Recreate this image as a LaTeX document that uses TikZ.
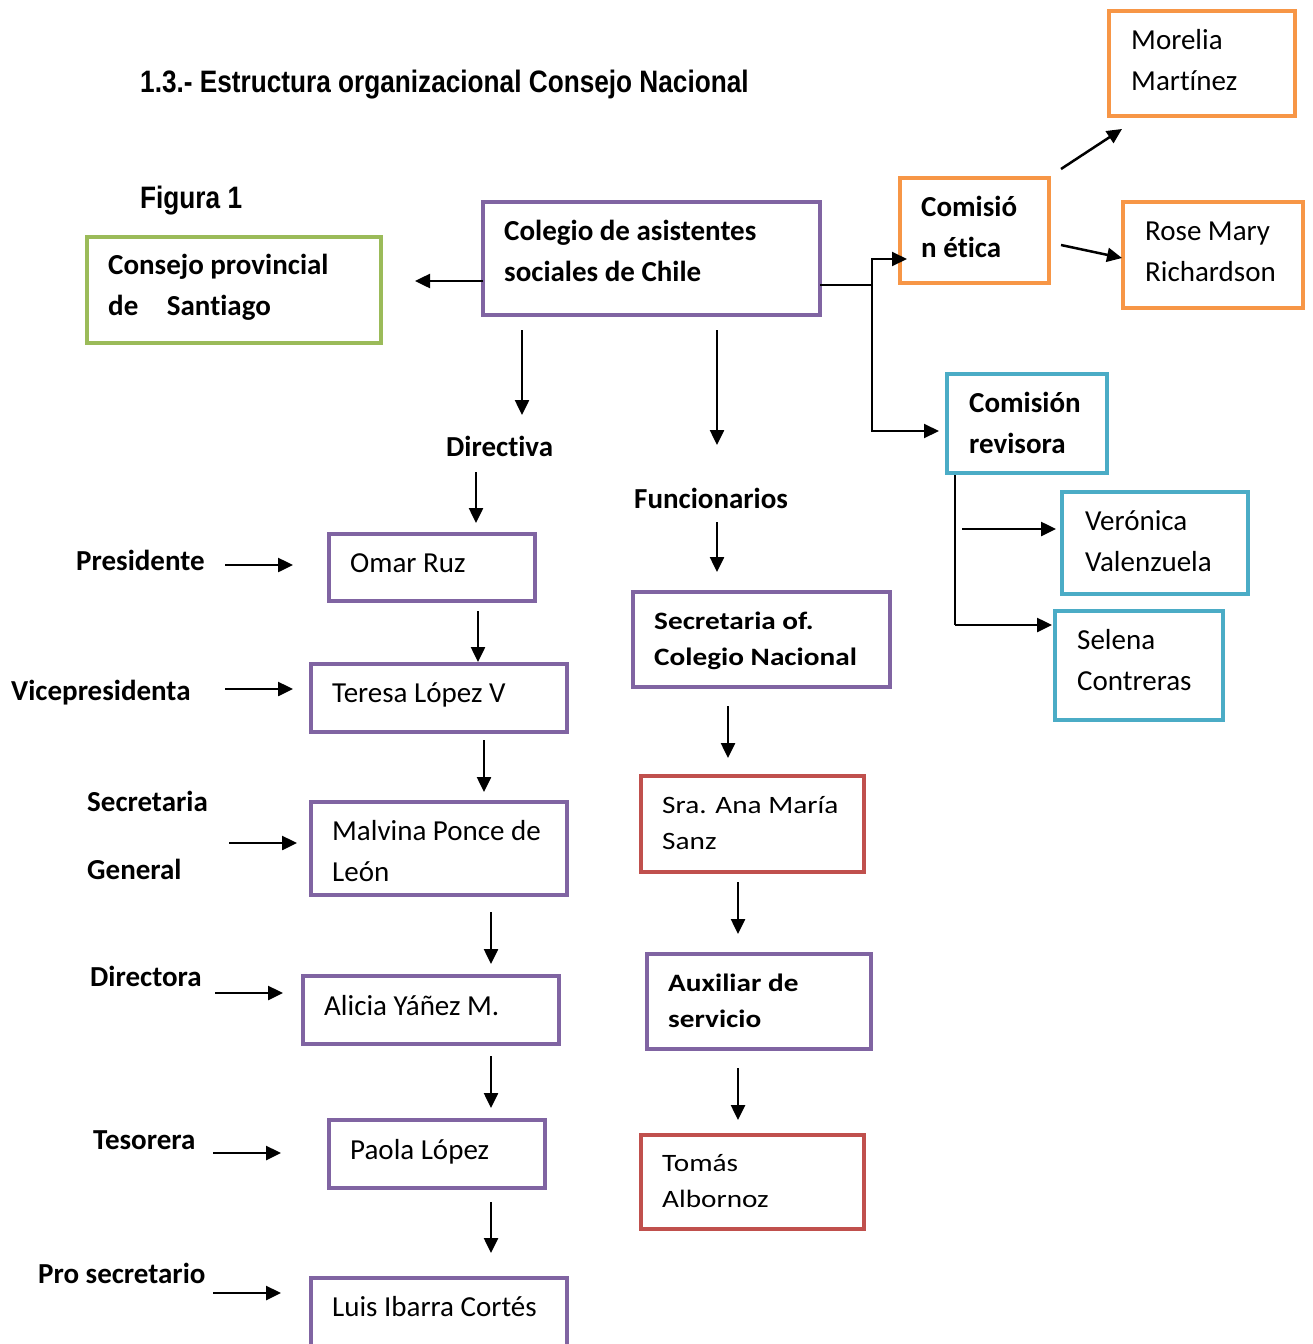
\documentclass[tikz,border=0pt]{standalone}
\usepackage{fontspec}
\setmainfont{Carlito}[Ligatures={NoCommon}]
\newfontfamily\widefont{Carlito}[FakeStretch=1.17, Ligatures={NoCommon}]
\newfontfamily\titlefont{Liberation Sans}[FakeStretch=0.845]
\usetikzlibrary{arrows.meta}
\definecolor{cpurple}{HTML}{8064A2}
\definecolor{cgreen}{HTML}{9BBB59}
\definecolor{corange}{HTML}{F79646}
\definecolor{cblue}{HTML}{4BACC6}
\definecolor{cred}{HTML}{C0504D}
\tikzset{
  box/.style={draw=#1, line width=4pt, inner sep=0pt},
  txt/.style={anchor=west, inner sep=0pt, align=left, font=\fontsize{29}{41}\selectfont},
  btxt/.style={anchor=west, inner sep=0pt, align=left, font=\fontsize{29}{41}\selectfont\bfseries},
  wtxt/.style={anchor=west, inner sep=0pt, align=left, font=\fontsize{25}{36}\selectfont\widefont},
  wbtxt/.style={anchor=west, inner sep=0pt, align=left, font=\fontsize{25}{36}\selectfont\widefont\bfseries},
  ttl/.style={anchor=base west, inner sep=0pt, font=\fontsize{31}{36}\selectfont\titlefont\bfseries},
  arr/.style={line width=2.5pt, -{Triangle[length=15pt,width=14pt]}},
  conn/.style={line width=2pt},
}
\begin{document}
\begin{tikzpicture}[x=1pt,y=-1pt]
\useasboundingbox (0,0) rectangle (1313,1344);
\clip (0,0) rectangle (1313,1344);

% title
\node[ttl] (title) at (140,92) {1.3.- Estructura organizacional Consejo Nacional};
\node[ttl] (fig) at (140,208) {Figura 1};

% boxes
\node[box=cgreen, minimum width=294pt, minimum height=106pt] (cp) at (234,290) {};
\node[box=cpurple, minimum width=337pt, minimum height=113pt] (col) at (651.5,258.5) {};
\node[box=corange, minimum width=149pt, minimum height=105pt] (etica) at (974.5,230.5) {};
\node[box=corange, minimum width=186pt, minimum height=105pt] (mor) at (1202,63.5) {};
\node[box=corange, minimum width=180pt, minimum height=106pt] (rose) at (1213,255) {};
\node[box=cblue, minimum width=160pt, minimum height=99pt] (rev) at (1027,423.5) {};
\node[box=cblue, minimum width=186pt, minimum height=102pt] (ver) at (1155,543) {};
\node[box=cblue, minimum width=168pt, minimum height=109pt] (sel) at (1139,665.5) {};
\node[box=cpurple, minimum width=206pt, minimum height=67pt] (omar) at (432,567.5) {};
\node[box=cpurple, minimum width=256pt, minimum height=68pt] (teresa) at (439,698) {};
\node[box=cpurple, minimum width=256pt, minimum height=93pt] (malvina) at (439,848.5) {};
\node[box=cpurple, minimum width=256pt, minimum height=68pt] (alicia) at (431,1010) {};
\node[box=cpurple, minimum width=216pt, minimum height=68pt] (paola) at (437,1154) {};
\node[box=cpurple, minimum width=256pt, minimum height=70pt] (luis) at (439,1313) {};
\node[box=cpurple, minimum width=257pt, minimum height=95pt] (secof) at (761.5,639.5) {};
\node[box=cred, minimum width=223pt, minimum height=96pt] (ana) at (752.5,824) {};
\node[box=cpurple, minimum width=224pt, minimum height=95pt] (aux) at (759,1001.5) {};
\node[box=cred, minimum width=223pt, minimum height=94pt] (tomas) at (752.5,1182) {};

% box texts
\node[btxt] (tcp) at (108,286.5) {\strut Consejo provincial\\\strut de\hspace{22pt} Santiago};
\node[btxt] (tcol) at (504,252.5) {\strut Colegio de asistentes\\\strut sociales de Chile};
\node[btxt] (tetica) at (921,228.5) {\strut Comisió\\\strut n ética};
\node[txt] (tmor) at (1131,62) {\strut Morelia\\\strut Martínez};
\node[txt] (trose) at (1145,252.5) {\strut Rose Mary\\\strut Richardson};
\node[btxt] (trev) at (969,424.5) {\strut Comisión\\\strut revisora};
\node[txt] (tver) at (1085,542.5) {\strut Verónica\\\strut Valenzuela};
\node[txt] (tsel) at (1077,662) {\strut Selena\\\strut Contreras};
\node[txt] (tomar) at (350,564) {\strut Omar Ruz};
\node[txt] (tteresa) at (332,694) {\strut Teresa López V};
\node[txt] (tmalvina) at (332,853) {\strut Malvina Ponce de\\\strut León};
\node[txt] (talicia) at (324,1007) {\strut Alicia Yáñez M.};
\node[txt] (tpaola) at (350,1151) {\strut Paola López};
\node[txt] (tluis) at (332,1308) {\strut Luis Ibarra Cortés};
\node[wbtxt] (tsecof) at (654,640) {\strut Secretaria of.\\\strut Colegio Nacional};
\node[wtxt] (tana) at (662,824) {\strut Sra. Ana María\\\strut Sanz};
\node[wbtxt] (taux) at (668,1002.5) {\strut Auxiliar de\\\strut servicio};
\node[wtxt] (ttomas) at (662,1182) {\strut Tomás\\\strut Albornoz};

% labels
\node[btxt] (ldir) at (446,448) {\strut Directiva};
\node[btxt] (lfun) at (634,500) {\strut Funcionarios};
\node[btxt] (lpre) at (76,562) {\strut Presidente};
\node[btxt] (lvice) at (11,692) {\strut Vicepresidenta};
\node[btxt] (lsec) at (87,803) {\strut Secretaria};
\node[btxt] (lgen) at (87,871) {\strut General};
\node[btxt] (ldtra) at (90,978) {\strut Directora};
\node[btxt] (ltes) at (93,1141) {\strut Tesorera};
\node[btxt] (lpro) at (38,1275) {\strut Pro secretario};

% connector coordinates
\coordinate (cpA) at (415,281);
\coordinate (colL) at (483,281);
\coordinate (colR) at (820,285);
\coordinate (j) at (872,285);
\coordinate (jUp) at (872,259);
\coordinate (eticaIn) at (907,259);
\coordinate (jDn) at (872,431);
\coordinate (revIn) at (939,431);
\coordinate (d1s) at (522,330); \coordinate (d1e) at (522,415);
\coordinate (f1s) at (717,330); \coordinate (f1e) at (717,445);
\coordinate (mS) at (1061,169); \coordinate (mE) at (1122,129);
\coordinate (rS) at (1061,245); \coordinate (rE) at (1122,258);
\coordinate (vTop) at (955,475); \coordinate (vBot) at (955,625);
\coordinate (verS) at (962,529); \coordinate (verE) at (1056,529);
\coordinate (selE) at (1052,625);
\coordinate (a1s) at (476,472); \coordinate (a1e) at (476,523);
\coordinate (a2s) at (478,611); \coordinate (a2e) at (478,662);
\coordinate (a3s) at (484,740); \coordinate (a3e) at (484,792);
\coordinate (a4s) at (491,912); \coordinate (a4e) at (491,964);
\coordinate (a5s) at (491,1056); \coordinate (a5e) at (491,1108);
\coordinate (a6s) at (491,1202); \coordinate (a6e) at (491,1253);
\coordinate (p1s) at (225,565); \coordinate (p1e) at (293,565);
\coordinate (p2s) at (225,689); \coordinate (p2e) at (293,689);
\coordinate (p3s) at (229,843); \coordinate (p3e) at (297,843);
\coordinate (p4s) at (215,993); \coordinate (p4e) at (283,993);
\coordinate (p5s) at (213,1153); \coordinate (p5e) at (281,1153);
\coordinate (p6s) at (213,1293); \coordinate (p6e) at (281,1293);
\coordinate (g1s) at (717,522); \coordinate (g1e) at (717,572);
\coordinate (g2s) at (728,706); \coordinate (g2e) at (728,758);
\coordinate (g3s) at (738,882); \coordinate (g3e) at (738,934);
\coordinate (g4s) at (738,1068); \coordinate (g4e) at (738,1120);

% connectors
\draw[arr] (colL) -- (cpA);
\draw[conn] (colR) -- (j);
\draw[arr, line width=2pt] (j) -- (jUp) -- (eticaIn);
\draw[arr, line width=2pt] (j) -- (jDn) -- (revIn);
\draw[arr] (d1s) -- (d1e);
\draw[arr] (f1s) -- (f1e);
\draw[arr] (mS) -- (mE);
\draw[arr] (rS) -- (rE);
\draw[conn] (vTop) -- (vBot);
\draw[arr] (verS) -- (verE);
\draw[arr] (vBot) -- (selE);
\draw[arr] (a1s) -- (a1e);
\draw[arr] (a2s) -- (a2e);
\draw[arr] (a3s) -- (a3e);
\draw[arr] (a4s) -- (a4e);
\draw[arr] (a5s) -- (a5e);
\draw[arr] (a6s) -- (a6e);
\draw[arr] (p1s) -- (p1e);
\draw[arr] (p2s) -- (p2e);
\draw[arr] (p3s) -- (p3e);
\draw[arr] (p4s) -- (p4e);
\draw[arr] (p5s) -- (p5e);
\draw[arr] (p6s) -- (p6e);
\draw[arr] (g1s) -- (g1e);
\draw[arr] (g2s) -- (g2e);
\draw[arr] (g3s) -- (g3e);
\draw[arr] (g4s) -- (g4e);
\end{tikzpicture}
\end{document}
